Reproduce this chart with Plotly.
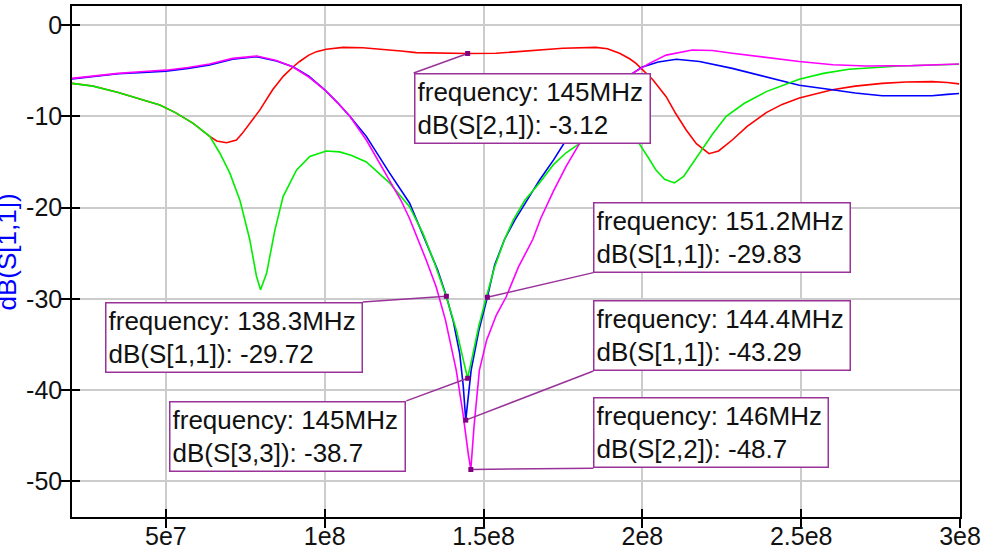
import numpy as np
import plotly.graph_objects as go

# ---------------- data (frequency in MHz, magnitude in dB) ----------------
s11_freq = [20.44, 27, 35, 43, 50, 57, 63.8, 71, 78.6, 84.8, 90, 95, 100, 104, 107.9, 113.1, 120.4, 126.7,
            132, 135.5, 138.3, 140.5, 142.5, 143.6, 144.4, 145.2, 146.1, 148.5, 151.2, 153.5, 156.6, 159.8,
            163.5, 167.6, 172, 176, 180, 185, 190, 194, 196.9, 200, 205, 210.7, 218, 228.3, 238, 249.4,
            259.8, 267, 275.5, 291.2, 296, 299.7]
s11_db = [-5.9, -5.66, -5.35, -5.2, -5.05, -4.75, -4.38, -3.76, -3.47, -3.94, -4.57, -5.6, -7.1, -8.5, -10.0,
          -12.2, -16.2, -19.5, -24.0, -26.8, -29.72, -32.5, -36.0, -39.5, -43.29, -40.5, -37.8, -33.5, -29.83,
          -26.3, -23.5, -21.4, -19.3, -17.0, -14.8, -12.6, -10.8, -8.8, -6.9, -5.8, -5.3, -4.6, -4.05, -3.76,
          -4.0, -4.75, -5.6, -6.6, -7.1, -7.45, -7.75, -7.75, -7.6, -7.5]

s22_freq = [20.44, 27, 35, 43, 50, 57, 63.8, 71, 78.6, 84.8, 90, 95, 100, 104, 107.9, 113.1, 120.4, 124,
            126.7, 128.8, 132, 135.1, 138, 141.4, 143.5, 145.2, 146, 147, 148.7, 151, 154, 157.1, 161, 165.5,
            168, 172, 176, 180.2, 185, 190, 194, 196.9, 202.2, 207.5, 215.7, 222, 228.3, 238, 249.4, 260,
            270.4, 285, 299.7]
s22_db = [-5.85, -5.6, -5.3, -5.1, -4.95, -4.65, -4.28, -3.66, -3.4, -3.9, -4.6, -5.7, -7.1, -8.5, -10.0,
          -12.6, -17.0, -19.2, -21.2, -23.0, -25.8, -28.7, -32.3, -37.8, -42.5, -47.0, -48.7, -44.0, -37.8,
          -34.5, -31.8, -29.8, -26.5, -23.5, -21.2, -18.2, -15.5, -13.0, -10.5, -8.3, -6.6, -5.3, -4.2, -3.3,
          -2.74, -2.8, -3.1, -3.5, -4.0, -4.35, -4.5, -4.45, -4.27]

s33_freq = [20.44, 27, 35, 43, 48.1, 53, 58.6, 63.8, 67, 70.1, 73.3, 76.4, 78.5, 79.8, 81.7, 84.3, 86.9,
            91.1, 95.3, 100.5, 104.7, 108.5, 113.1, 120.4, 126.7, 130.9, 134.5, 138.3, 141.5, 143.5, 145,
            146.5, 148.5, 150.9, 153.5, 156.6, 159.3, 163, 167.6, 172, 176, 180.2, 185, 190, 194, 196.9, 199,
            202, 204.3, 207, 210.1, 213, 218, 222, 226.4, 232, 239, 249.4, 257, 265, 280.9, 290, 299.7]
s33_db = [-6.4, -6.7, -7.4, -8.2, -8.76, -9.6, -10.77, -12.2, -14.05, -16.2, -19.2, -23.5, -27.5, -29.0,
          -27.2, -22.5, -18.8, -15.9, -14.4, -13.8, -13.9, -14.3, -15.0, -17.3, -19.9, -22.8, -26.0, -29.8,
          -33.5, -36.5, -38.7, -36.3, -33.0, -29.8, -26.5, -23.5, -21.4, -19.2, -17.3, -15.3, -14.0, -13.0,
          -12.3, -12.0, -12.0, -12.2, -13.0, -14.6, -15.9, -16.9, -17.3, -16.6, -14.0, -12.0, -10.0, -8.6,
          -7.3, -5.95, -5.3, -4.85, -4.5, -4.4, -4.3]

s21_freq = [20.44, 27, 35, 43, 48.1, 53, 58.6, 63.8, 66, 69.1, 72.2, 74, 76.4, 79.6, 83.6, 87, 90, 92.1, 95,
            97.4, 100.5, 105.8, 112, 118.3, 124, 128.8, 137, 145, 154, 162.4, 169, 175, 185.4, 189, 192.8,
            196, 198, 200.5, 203.3, 207.5, 210.5, 213.8, 217, 221, 224, 228.3, 233, 239, 244, 249.4, 259.8,
            267, 275.5, 283, 291.2, 296, 299.7]
s21_db = [-6.4, -6.68, -7.4, -8.2, -8.76, -9.6, -10.77, -12.2, -12.7, -12.9, -12.6, -11.9, -10.8, -9.3,
          -7.1, -5.6, -4.6, -4.0, -3.3, -2.92, -2.65, -2.45, -2.5, -2.66, -2.85, -3.03, -3.1, -3.12, -3.1,
          -2.9, -2.7, -2.55, -2.45, -2.6, -3.1, -3.7, -4.2, -5.0, -6.0, -7.85, -9.7, -11.5, -13.0, -14.1,
          -13.8, -12.6, -11.1, -9.6, -8.7, -8.0, -7.1, -6.7, -6.4, -6.25, -6.2, -6.3, -6.45]

# markers
mk_freq = [145, 138.3, 145, 151.2, 144.4, 146]
mk_db = [-3.12, -29.72, -38.7, -29.83, -43.29, -48.7]
mk_param = ["S[2,1]", "S[1,1]", "S[3,3]", "S[1,1]", "S[1,1]", "S[2,2]"]
# label box anchor (MHz, dB) -- connector starts here
box_freq = [128.0, 111.96, 125.7, 184.6, 184.6, 184.6]
box_db = [-5.26, -30.34, -41.18, -27.13, -37.9, -48.55]
box_xanchor = ["left", "right", "right", "left", "left", "left"]
box_yanchor = ["top", "top", "top", "bottom", "bottom", "bottom"]
box_width = [230, 251, 230, 251, 251, 229]

x_tickvals = [5e7, 1e8, 1.5e8, 2e8, 2.5e8, 3e8]
x_ticktext = ["5e7", "1e8", "1.5e8", "2e8", "2.5e8", "3e8"]
y_tickvals = [0, -10, -20, -30, -40, -50]
y_ticktext = ["0", "-10", "-20", "-30", "-40", "-50"]

X_RANGE = [20.44e6, 300e6]
Y_RANGE = [-53.9, 2.08]
FONT = "Liberation Sans, Arial, sans-serif"
PURPLE = "#993399"
MHZ = 1e6

fig = go.Figure()
series = [
    (s21_freq, s21_db, "#ff0000", "dB(S[2,1])"),
    (s11_freq, s11_db, "#0000ff", "dB(S[1,1])"),
    (s33_freq, s33_db, "#00ee00", "dB(S[3,3])"),
    (s22_freq, s22_db, "#ff00ff", "dB(S[2,2])"),
]
for f, d, c, n in series:
    fig.add_trace(go.Scatter(x=np.array(f) * MHZ, y=d, mode="lines", name=n,
                             line=dict(color=c, width=1.6), showlegend=False))

# connectors
for bf, bd, mf, md in zip(box_freq, box_db, mk_freq, mk_db):
    fig.add_trace(go.Scatter(x=[bf * MHZ, mf * MHZ], y=[bd, md], mode="lines",
                             line=dict(color=PURPLE, width=1.5), showlegend=False, hoverinfo="skip"))
# marker squares
fig.add_trace(go.Scatter(x=np.array(mk_freq) * MHZ, y=mk_db, mode="markers",
                         marker=dict(symbol="square", size=5, color="#800080"),
                         showlegend=False))

# dummy trace for inner-tick overlay axes
fig.add_trace(go.Scatter(x=[s11_freq[0] * MHZ], y=[s11_db[0]], mode="markers",
                         marker=dict(opacity=0), xaxis="x2", yaxis="y2",
                         showlegend=False, hoverinfo="skip"))

annotations = []
for mf, md, p, bf, bd, xa, ya, w in zip(mk_freq, mk_db, mk_param, box_freq, box_db,
                                         box_xanchor, box_yanchor, box_width):
    annotations.append(dict(
        x=bf * MHZ, y=bd, xref="x", yref="y", xanchor=xa, yanchor=ya,
        text=f"frequency: {mf:g}MHz<br>dB({p}): {md:g}",
        showarrow=False, align="left", width=w, height=64,
        font=dict(family=FONT, size=26, color="#111111"),
        bgcolor="white", bordercolor=PURPLE, borderwidth=1.5, borderpad=2,
    ))
annotations.append(dict(
    x=-0.0736, y=0.519, xref="paper", yref="paper", xanchor="center", yanchor="middle",
    text="dB(S[1,1])", textangle=-90, showarrow=False,
    font=dict(family=FONT, size=26, color="#0000ff"),
))

axis_common = dict(showline=True, linecolor="black", linewidth=1.5, mirror=True,
                   ticks="outside", ticklen=9, tickwidth=1.5, tickcolor="black",
                   showgrid=True, gridcolor="#cccccc", gridwidth=1.5, zeroline=False,
                   automargin=False,
                   tickfont=dict(family=FONT, size=25, color="#111111"))

fig.update_layout(
    width=996, height=552,
    margin=dict(l=72, r=36, t=6, b=35),
    paper_bgcolor="white", plot_bgcolor="white",
    xaxis=dict(range=X_RANGE, tickvals=x_tickvals, ticktext=x_ticktext, ticklabelstandoff=-13,
               **axis_common),
    yaxis=dict(range=Y_RANGE, tickvals=y_tickvals, ticktext=y_ticktext, ticklabelstandoff=-6,
               **axis_common),
    xaxis2=dict(range=X_RANGE, tickvals=x_tickvals, overlaying="x", anchor="y", side="bottom",
                ticks="inside", ticklen=8, tickwidth=1.5, tickcolor="black", automargin=False,
                showticklabels=False, showgrid=False, showline=False, zeroline=False),
    yaxis2=dict(range=Y_RANGE, tickvals=y_tickvals, overlaying="y", anchor="x", side="left",
                ticks="inside", ticklen=8, tickwidth=1.5, tickcolor="black", automargin=False,
                showticklabels=False, showgrid=False, showline=False, zeroline=False),
    annotations=annotations,
)

fig.write_html("out.html")
